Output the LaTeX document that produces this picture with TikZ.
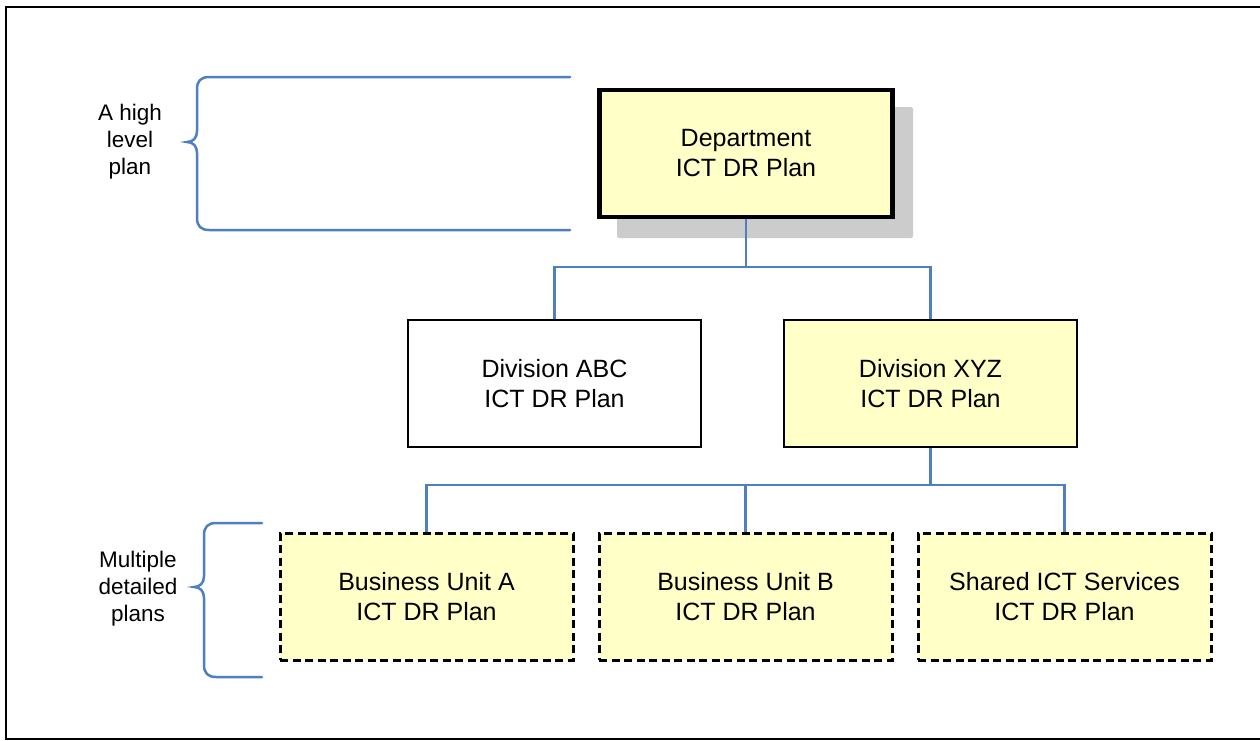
\documentclass[tikz,border=0pt]{standalone}
\usepackage{fontspec}
\setmainfont{Liberation Sans}
\definecolor{plan}{HTML}{FFFFC8}
\definecolor{conn}{HTML}{4F7EC2}
\definecolor{shadowgray}{HTML}{CCCCCC}
\begin{document}
\begin{tikzpicture}[x=1pt,y=-1pt,
  box/.style={draw=black, line width=2.5pt, minimum width=293pt, minimum height=127pt, align=center,
    font=\fontsize{25}{30}\selectfont, inner sep=0pt},
  topbox/.style={box, fill=plan, line width=4.5pt},
  yellowbox/.style={box, fill=plan},
  whitebox/.style={box, fill=white},
  dashbox/.style={box, fill=plan, line width=3pt, dash pattern=on 8pt off 4.5pt},
  link/.style={draw=conn, line width=2.5pt},
  bracepath/.style={draw=conn, line width=2.5pt, line cap=round},
  side/.style={align=center, font=\fontsize{22.5}{27}\selectfont}]
\useasboundingbox (0,0) rectangle (1260,740);
\clip (0,0) rectangle (1260,740);
\fill[white] (0,0) rectangle (1260,740);
\draw[line width=2.5pt] (6,7) rectangle (1280,739);

% shadow
\fill[shadowgray, rounded corners=2pt] (617,107) rectangle (913,238);

\node[topbox] (dept) at (746,153.5) {Department\\ICT DR Plan};
\node[whitebox] (abc) at (554.5,383.5) {Division ABC\\ICT DR Plan};
\node[yellowbox] (xyz) at (930.5,383.5) {Division XYZ\\ICT DR Plan};
\node[dashbox] (bua) at (426.5,596.5) {Business Unit A\\ICT DR Plan};
\node[dashbox] (bub) at (745.5,596.5) {Business Unit B\\ICT DR Plan};
\node[dashbox] (sic) at (1064.5,596.5) {Shared ICT Services\\ICT DR Plan};

% connectors
\coordinate (j1) at (746,267);
\coordinate (j2) at (930.5,485);
\draw[link] (dept.south) -- (j1);
\draw[link] (j1) -| (abc.north);
\draw[link] (j1) -| (xyz.north);
\draw[link] (xyz.south) -- (j2);
\draw[link] (j2) -| (bua.north);
\draw[link] (j2) -| (bub.north);
\draw[link] (j2) -| (sic.north);

% braces
\coordinate (b1s) at (570,77);
\coordinate (b1e) at (570,230);
\draw[bracepath] (b1s) -- (209,77) .. controls (201,77) and (197,81) .. (197,89) -- (197,131)
  .. controls (197,138) and (193,142) .. (187,142)
  .. controls (193,142) and (197,146) .. (197,153) -- (197,218)
  .. controls (197,226) and (201,230) .. (209,230) -- (b1e);
\coordinate (b2s) at (262,523);
\coordinate (b2e) at (262,677);
\draw[bracepath] (b2s) -- (216,523) .. controls (208,523) and (204,527) .. (204,535) -- (204,576)
  .. controls (204,583) and (200,587) .. (194,587)
  .. controls (200,587) and (204,591) .. (204,598) -- (204,665)
  .. controls (204,673) and (208,677) .. (216,677) -- (b2e);

\node[side] (hl) at (130,142) {A high\\level\\plan};
\node[side] (md) at (138,589) {Multiple\\detailed\\plans};
\end{tikzpicture}
\end{document}
